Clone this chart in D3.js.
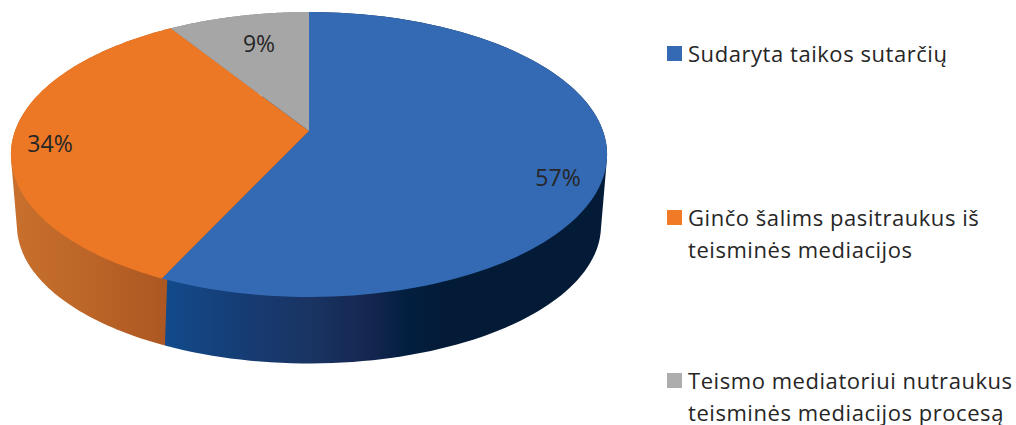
<!DOCTYPE html>
<html>
<head>
<meta charset="utf-8">
<script src="https://d3js.org/d3.v7.min.js"></script>
<style>
body { margin: 0; background: #fff; }
text { font-family: "Open Sans", sans-serif; fill: #262626; }
</style>
</head>
<body>
<div id="chart"></div>
<script>
var categories = ["Sudaryta taikos sutarčių", "Ginčo šalims pasitraukus iš teisminės mediacijos", "Teismo mediatoriui nutraukus teisminės mediacijos procesą"];
var values = [57, 34, 9];

var legendLines = [["Sudaryta taikos sutarčių"], ["Ginčo šalims pasitraukus iš", "teisminės mediacijos"], ["Teismo mediatoriui nutraukus", "teisminės mediacijos procesą"]];
var topColors = ["#336ab3", "#ec7826", "#a6a6a6"];

var svg = d3.select("#chart")
    .append("svg")
    .attr("width", 1016)
    .attr("height", 425);

/*Perspective view of the disc: v is towards the back, the near edge looks bigger*/
var persp = 0.165;
function rimPoint(angle, r, cx, cy, rx, ry) {
    var u = Math.sin(angle) * r;
    var v = Math.cos(angle) * r;
    var w = 1 + persp * v;
    return [cx + rx * u / w, cy - ry * v / w];
}
var topFace = { cx: 309, cy: 131, rx: 294, ry: 138.6 };
var bottomFace = { cx: 309, cy: 203, rx: 288, ry: 134 };

function rim(face, a0, a1) {
    return d3.range(0, 121).map(function (i) {
        return rimPoint(a0 + (a1 - a0) * i / 120, 1, face.cx, face.cy, face.rx, face.ry);
    });
}

var pie = d3.pie().sort(null).value(function (d) { return d; });
var slices = pie(values);
var line = d3.line();

/*Side wall gradients run from left to right across the front*/
var defs = svg.append("defs");
var sideStops = [
    [[166, "#124a8b"], [250, "#163b72"], [310, "#1a3463"], [372, "#14264f"], [405, "#021f40"], [440, "#041b38"], [607, "#041b38"]],
    [[12, "#c8702c"], [90, "#bb6528"], [163, "#ad5723"]],
    [[173, "#808080"], [309, "#808080"]]
];
sideStops.forEach(function (stops, i) {
    var x0 = stops[0][0], x1 = stops[stops.length - 1][0];
    defs.append("linearGradient")
        .attr("id", "side" + i)
        .attr("gradientUnits", "userSpaceOnUse")
        .attr("x1", x0).attr("x2", x1)
        .attr("y1", 0).attr("y2", 0)
        .selectAll("stop")
        .data(stops)
        .join("stop")
        .attr("offset", function (d) { return (d[0] - x0) / (x1 - x0); })
        .attr("stop-color", function (d) { return d[1]; });
});

/*Side walls, hull of both rims so the outline runs straight down at the far left and right*/
svg.append("g")
    .selectAll("path")
    .data(slices)
    .join("path")
    .attr("fill", function (d, i) { return "url(#side" + i + ")"; })
    .attr("d", function (d) {
        var upper = rim(topFace, d.startAngle, d.endAngle);
        var lower = rim(bottomFace, d.startAngle, d.endAngle);
        return line(d3.polygonHull(upper.concat(lower))) + "Z";
    });

/*Top face*/
svg.append("g")
    .selectAll("path")
    .data(slices)
    .join("path")
    .attr("fill", function (d, i) { return topColors[i]; })
    .attr("d", function (d) {
        return line([[topFace.cx, topFace.cy]].concat(rim(topFace, d.startAngle, d.endAngle))) + "Z";
    });

/*Percent labels*/
var labelPos = [[558, 186], [50, 152], [259, 52]];
svg.append("g")
    .selectAll("text")
    .data(values)
    .join("text")
    .attr("x", function (d, i) { return labelPos[i][0]; })
    .attr("y", function (d, i) { return labelPos[i][1]; })
    .attr("text-anchor", "middle")
    .attr("font-size", 23)
    .text(function (d) { return d + "%"; });

/*Legend*/
var legendY = [46, 210, 373];
var legend = svg.append("g")
    .selectAll("g")
    .data(categories)
    .join("g")
    .attr("transform", function (d, i) { return "translate(667," + legendY[i] + ")"; });

legend.append("rect")
    .attr("width", 15)
    .attr("height", 15)
    .attr("fill", function (d, i) { return i == 2 ? "#adadad" : i == 1 ? "#f07a26" : topColors[i]; });

legend.selectAll("text")
    .data(function (d, i) { return legendLines[i]; })
    .join("text")
    .attr("x", 21)
    .attr("y", function (d, i) { return 15.5 + i * 32; })
    .attr("font-size", 22)
    .attr("letter-spacing", 0.55)
    .text(function (d) { return d; });
</script>
</body>
</html>
